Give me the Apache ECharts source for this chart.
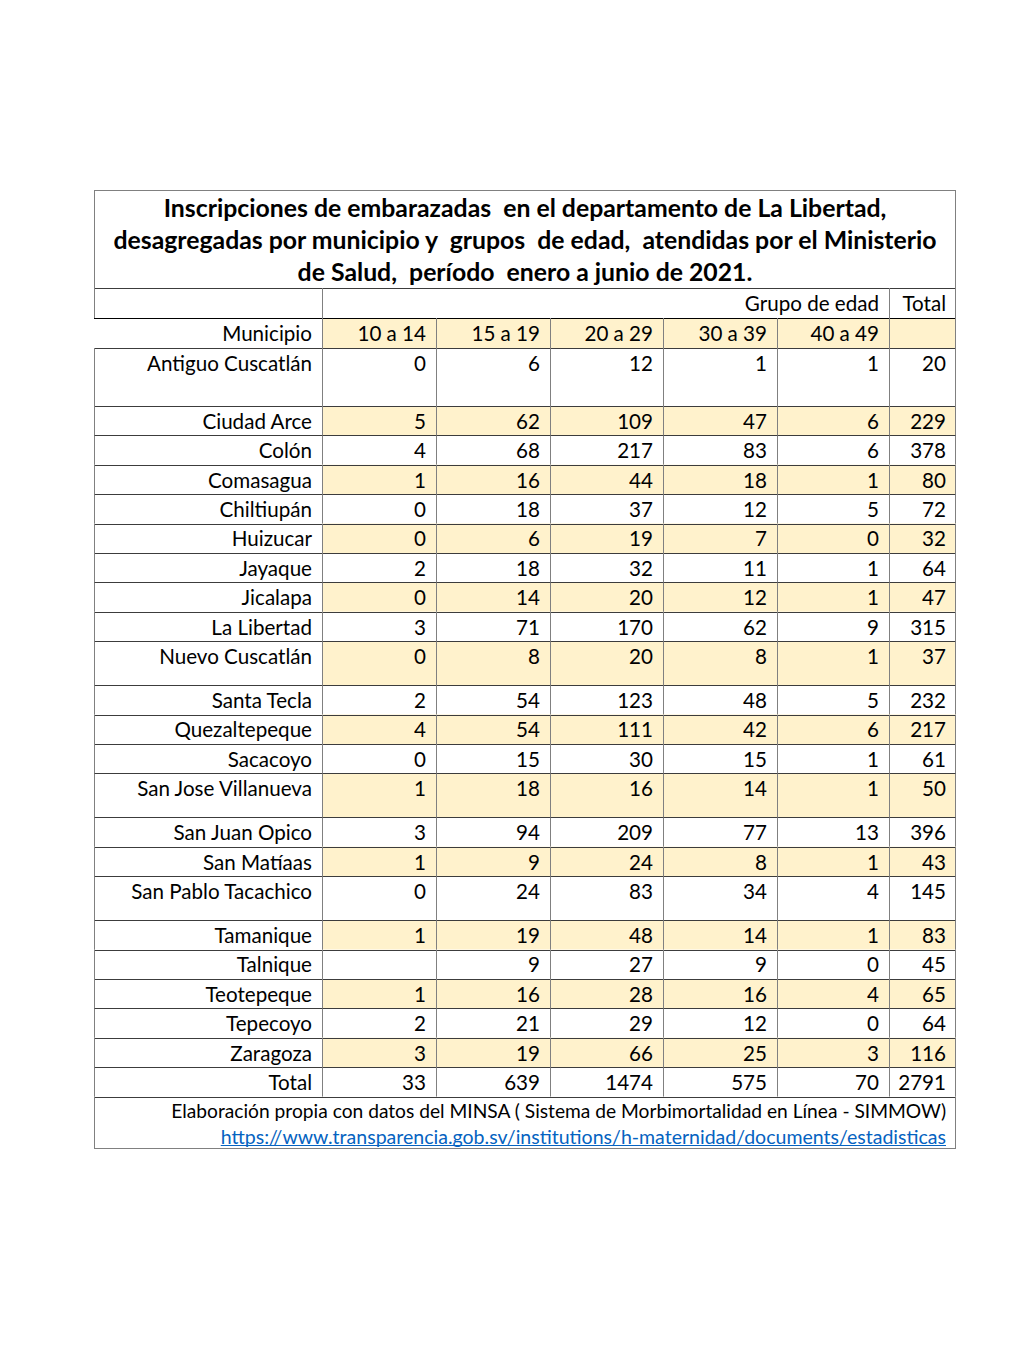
<!DOCTYPE html>
<html><head><meta charset="utf-8">
<script src="https://cdn.jsdelivr.net/npm/echarts@6/dist/echarts.min.js"></script>
<style>html,body{margin:0;padding:0;background:#fff}#chart{width:1020px;height:1360px}</style>
</head><body><div id="chart"></div>
<script>
// ---------- DATA ----------
const titleLines = [
  'Inscripciones de embarazadas  en el departamento de La Libertad,',
  'desagregadas por municipio y  grupos  de edad,  atendidas por el Ministerio',
  'de Salud,  período  enero a junio de 2021.'
];
const groupLabel = 'Grupo de edad';
const totalLabel = 'Total';
const municipioLabel = 'Municipio';
const ageGroups = ['10 a 14', '15 a 19', '20 a 29', '30 a 39', '40 a 49'];
const municipios = ['Antiguo Cuscatlán', 'Ciudad Arce', 'Colón', 'Comasagua', 'Chiltiupán', 'Huizucar', 'Jayaque', 'Jicalapa', 'La Libertad', 'Nuevo Cuscatlán', 'Santa Tecla', 'Quezaltepeque', 'Sacacoyo', 'San Jose Villanueva', 'San Juan Opico', 'San Matíaas', 'San Pablo Tacachico', 'Tamanique', 'Talnique', 'Teotepeque', 'Tepecoyo', 'Zaragoza'];
const v10_14 = [0, 5, 4, 1, 0, 0, 2, 0, 3, 0, 2, 4, 0, 1, 3, 1, 0, 1, null, 1, 2, 3];
const v15_19 = [6, 62, 68, 16, 18, 6, 18, 14, 71, 8, 54, 54, 15, 18, 94, 9, 24, 19, 9, 16, 21, 19];
const v20_29 = [12, 109, 217, 44, 37, 19, 32, 20, 170, 20, 123, 111, 30, 16, 209, 24, 83, 48, 27, 28, 29, 66];
const v30_39 = [1, 47, 83, 18, 12, 7, 11, 12, 62, 8, 48, 42, 15, 14, 77, 8, 34, 14, 9, 16, 12, 25];
const v40_49 = [1, 6, 6, 1, 5, 0, 1, 1, 9, 1, 5, 6, 1, 1, 13, 1, 4, 1, 0, 4, 0, 3];
const rowTotals = [20, 229, 378, 80, 72, 32, 64, 47, 315, 37, 232, 217, 61, 50, 396, 43, 145, 83, 45, 65, 64, 116];
const totalRow = [33, 639, 1474, 575, 70, 2791];
const sourceNote = 'Elaboración propia con datos del MINSA ( Sistema de Morbimortalidad en Línea - SIMMOW)';
const sourceLink = 'https://www.transparencia.gob.sv/institutions/h-maternidad/documents/estadisticas';

// ---------- LAYOUT / STYLE ----------
const L = {
  left: 94, top: 190,
  colW: [228, 114, 114, 113, 114, 112, 67],
  titleH: 98, headH: 30, rowH: 29.4, footH: 52,
  tall: { 'Antiguo Cuscatlán': 58, 'Nuevo Cuscatlán': 44, 'San Jose Villanueva': 44, 'San Pablo Tacachico': 44 },
  pad: 10
};
const FONT = 'Lato';
const BODY = 20.6;
const TITLE = 24.8;
const FOOT = 19.2;
const LINK = 19.55;
const YELLOW = '#FFF2CC';
const HLINE = '#3c3c3c';
const VLINE = '#808080';

const valueCols = [v10_14, v15_19, v20_29, v30_39, v40_49, rowTotals];
const colX = [0];
L.colW.forEach(w => colX.push(colX[colX.length - 1] + w));
const W = colX[colX.length - 1];

// row spec
const rows = [];
rows.push({ kind: 'title', h: L.titleH });
rows.push({ kind: 'group', h: L.headH });
rows.push({ kind: 'head', h: L.headH });
municipios.forEach((m, i) => rows.push({ kind: 'data', i, h: L.tall[m] || L.rowH }));
rows.push({ kind: 'total', h: L.rowH });
rows.push({ kind: 'foot', h: L.footH });
let acc = 0;
rows.forEach(r => { r.y0 = acc; acc += r.h; r.y1 = acc; });
const H = acc;

const measure = (() => {
  const c = document.createElement('canvas').getContext('2d');
  return (t, f) => { c.font = f; return c.measureText(t).width; };
})();

function txt(x, y, text, opt) {
  opt = opt || {};
  return {
    type: 'text', silent: true,
    style: {
      x, y, text,
      fill: opt.fill || '#000',
      font: (opt.bold ? 'bold ' : '') + (opt.size || BODY) + 'px ' + FONT,
      textAlign: opt.align || 'right',
      textVerticalAlign: 'middle'
    }
  };
}
function hline(a, b, color) {
  const y = Math.round(a[1]) + 0.5;
  return { type: 'line', silent: true, shape: { x1: a[0], y1: y, x2: b[0], y2: y }, style: { stroke: color || HLINE, lineWidth: 1 } };
}
function vline(a, b, color) {
  const x = Math.round(a[0]) + 0.5;
  return { type: 'line', silent: true, shape: { x1: x, y1: a[1], x2: x, y2: b[1] }, style: { stroke: color || VLINE, lineWidth: 1 } };
}

function renderItem(params, api) {
  const r = rows[api.value(0)];
  const c = (x, y) => api.coord([x, y]);
  const children = [];
  const tl = c(0, r.y0), br = c(W, r.y1);
  const textY = c(0, r.y0 + Math.min(r.h, L.headH) / 2)[1];

  // fills
  const yellow = r.kind === 'head' || (r.kind === 'data' && r.i % 2 === 1);
  if (yellow) {
    const a = c(colX[1], r.y0), b = c(W, r.y1);
    children.push({ type: 'rect', silent: true, shape: { x: a[0], y: a[1], width: b[0] - a[0], height: b[1] - a[1] }, style: { fill: YELLOW } });
  }

  if (r.kind === 'title') {
    const cx = c(W / 2, 0)[0];
    const lh = (r.h - 2) / titleLines.length;
    titleLines.forEach((t, k) => {
      children.push(txt(cx, c(0, r.y0 + lh * (k + 0.5) + 1.5)[1], t, { bold: true, size: TITLE, align: 'center' }));
    });
    children.push(hline(tl, [br[0], tl[1]], VLINE));
    children.push(vline(tl, [tl[0], br[1]]));
    children.push(vline([br[0] - 1, tl[1]], [br[0] - 1, br[1]]));
  } else if (r.kind === 'group') {
    children.push(hline(tl, [br[0], tl[1]]));
    [0, 1, 6].forEach(k => children.push(vline(c(colX[k], r.y0), c(colX[k], r.y1))));
    children.push(vline([br[0] - 1, tl[1]], [br[0] - 1, br[1]]));
    children.push(txt(c(colX[6], 0)[0] - L.pad, textY, groupLabel));
    children.push(txt(br[0] - L.pad, textY, totalLabel));
  } else if (r.kind === 'head') {
    children.push(hline(tl, [br[0], tl[1]], '#000'));
    [1, 2, 3, 4, 5, 6].forEach(k => children.push(vline(c(colX[k], r.y0), c(colX[k], r.y1))));
    children.push(vline([br[0] - 1, tl[1]], [br[0] - 1, br[1]]));
    children.push(txt(c(colX[1], 0)[0] - L.pad, textY, municipioLabel));
    ageGroups.forEach((g, k) => children.push(txt(c(colX[k + 2], 0)[0] - L.pad, textY, g)));
  } else if (r.kind === 'data' || r.kind === 'total') {
    children.push(hline(tl, [br[0], tl[1]]));
    [0, 1, 2, 3, 4, 5, 6].forEach(k => children.push(vline(c(colX[k], r.y0), c(colX[k], r.y1))));
    children.push(vline([br[0] - 1, tl[1]], [br[0] - 1, br[1]]));
    const label = r.kind === 'data' ? municipios[r.i] : totalLabel;
    children.push(txt(c(colX[1], 0)[0] - L.pad, textY, label));
    for (let k = 0; k < 6; k++) {
      const v = r.kind === 'data' ? valueCols[k][r.i] : totalRow[k];
      if (v === null || v === undefined) continue;
      children.push(txt(c(colX[k + 2], 0)[0] - L.pad, textY, String(v)));
    }
  } else if (r.kind === 'foot') {
    children.push(hline(tl, [br[0], tl[1]]));
    children.push(vline(tl, [tl[0], br[1]]));
    children.push(vline([br[0] - 1, tl[1]], [br[0] - 1, br[1]]));
    children.push(hline([tl[0], br[1] - 1], [br[0], br[1] - 1], VLINE));
    const xr = br[0] - L.pad;
    const y1 = c(0, r.y0 + 13.5)[1], y2 = c(0, r.y0 + 39.5)[1];
    children.push(txt(xr, y1, sourceNote, { size: FOOT }));
    children.push(txt(xr, y2, sourceLink, { size: LINK, fill: '#0563C1' }));
    const lw = measure(sourceLink, LINK + 'px ' + FONT);
    const uy = Math.round(y2 + LINK * 0.48) + 0.5;
    children.push({ type: 'line', silent: true, shape: { x1: xr - lw, y1: uy, x2: xr, y2: uy }, style: { stroke: '#0563C1', lineWidth: 1 } });
  }
  return { type: 'group', children };
}

const chart = echarts.init(document.getElementById('chart'), null, { renderer: 'svg' });
chart.setOption({
  animation: false,
  backgroundColor: '#fff',
  grid: { left: L.left, top: L.top, width: W, height: H, containLabel: false },
  xAxis: { type: 'value', min: 0, max: W, show: false },
  yAxis: { type: 'value', min: 0, max: H, inverse: true, show: false },
  series: [{
    type: 'custom',
    renderItem,
    coordinateSystem: 'cartesian2d',
    data: rows.map((r, i) => [i]),
    clip: false
  }]
});
</script></body></html>
